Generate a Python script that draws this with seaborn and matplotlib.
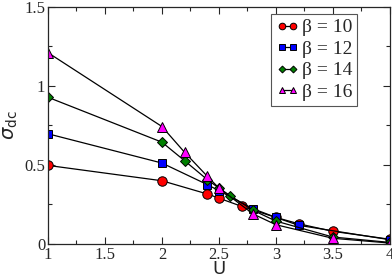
import numpy as np
import pandas as pd
import seaborn as sns
import matplotlib
matplotlib.use("Agg")
import matplotlib.pyplot as plt
from matplotlib.ticker import MultipleLocator, FormatStrFormatter

# sigma_dc vs U for several beta values
u_b10 = [1.0, 2.0, 2.4, 2.5, 2.7, 3.0, 3.2, 3.5, 4.0]
s_b10 = [0.497, 0.40, 0.316, 0.29, 0.238, 0.168, 0.128, 0.08, 0.03]

u_b12 = [1.0, 2.0, 2.4, 2.5, 2.8, 3.0, 3.2, 4.0]
s_b12 = [0.697, 0.512, 0.375, 0.337, 0.223, 0.168, 0.118, 0.027]

u_b14 = [1.0, 2.0, 2.2, 2.4, 2.5, 2.6, 2.8, 3.0, 3.5, 4.0]
s_b14 = [0.928, 0.644, 0.526, 0.406, 0.354, 0.305, 0.213, 0.145, 0.044, 0.01]

u_b16 = [1.0, 2.0, 2.2, 2.4, 2.5, 2.8, 3.0, 3.5, 4.0]
s_b16 = [1.21, 0.743, 0.579, 0.427, 0.354, 0.19, 0.122, 0.036, 0.006]

labels = ["β = 10", "β = 12", "β = 14", "β = 16"]

sns.set_style("ticks")
plt.rcParams["font.family"] = ["Liberation Serif", "DejaVu Serif"]
plt.rcParams["mathtext.fontset"] = "dejavusans"

fig = plt.figure(figsize=(3.92, 2.8), dpi=100)
ax = fig.add_axes([0.1224, 0.1286, 0.872, 0.847])

series = [
    (u_b10, s_b10, "o", "#ff0000", 6.8),
    (u_b12, s_b12, "s", "#0000ff", 5.5),
    (u_b14, s_b14, "D", "#008000", 5.0),
    (u_b16, s_b16, "^", "#ff00ff", 6.5),
]
for (u, s, m, c, ms), lab in zip(series, labels):
    df = pd.DataFrame({"U": u, "sigma": s})
    sns.lineplot(data=df, x="U", y="sigma", ax=ax, color="black", linewidth=0.9,
                 marker=m, markersize=ms, markerfacecolor=c,
                 markeredgecolor="black", markeredgewidth=0.7, label=lab)

ax.set_xlim(1, 4)
ax.set_ylim(0, 1.5)
ax.xaxis.set_major_locator(MultipleLocator(0.5))
ax.xaxis.set_minor_locator(MultipleLocator(0.25))
ax.yaxis.set_major_locator(MultipleLocator(0.5))
ax.yaxis.set_minor_locator(MultipleLocator(0.25))
ax.xaxis.set_major_formatter(FormatStrFormatter("%g"))
ax.yaxis.set_major_formatter(FormatStrFormatter("%g"))
ax.tick_params(which="both", direction="in", top=True, right=True, width=0.8)
ax.tick_params(which="major", length=5, labelsize=12, pad=2)
ax.tick_params(which="minor", length=3)
for sp in ax.spines.values():
    sp.set_linewidth(0.9)

ax.set_xlabel("U", fontsize=13, family="DejaVu Sans", labelpad=-2)
ax.set_ylabel(r"$\sigma_{\mathrm{dc}}$", fontsize=14, labelpad=3)

leg = ax.legend(loc="upper right", bbox_to_anchor=(0.905, 0.97), borderaxespad=0,
                fontsize=14, frameon=True, fancybox=False,
                edgecolor="#555555", framealpha=1, handlelength=1.2,
                handletextpad=0.15, borderpad=0.25, labelspacing=0.2,
                markerscale=0.7, numpoints=2)
leg.get_frame().set_linewidth(0.8)

fig.savefig("out.png", dpi=100)
